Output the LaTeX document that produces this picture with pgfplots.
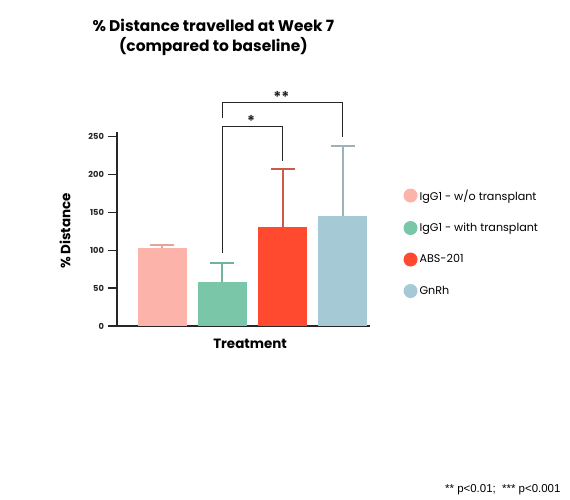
\documentclass[border=0pt]{standalone}
\usepackage{fontspec}
\setmainfont{Poppins}
\newfontfamily\arialfont{Liberation Sans}
\usepackage{pgfplots}
\pgfplotsset{compat=1.18}
\definecolor{cA}{HTML}{FCB3A9}
\definecolor{cB}{HTML}{79C6A8}
\definecolor{cC}{HTML}{FF4A30}
\definecolor{cD}{HTML}{A5CAD5}
\definecolor{eA}{HTML}{E3A49B}
\definecolor{eB}{HTML}{6FB49B}
\definecolor{eC}{HTML}{CC5A4A}
\definecolor{eD}{HTML}{9DB3BB}
\definecolor{axisgray}{HTML}{262626}

\pgfplotsset{
  barstyle/.style n args={2}{
    ybar, bar width=49bp, bar shift=0pt, fill=#1, draw=none,
    legend image code/.code={\fill[#1] (0,0) circle (7bp);},
    error bars/.cd, y dir=plus, y explicit,
    error bar style={line width=2bp, color=#2},
    error mark options={rotate=90, mark size=12bp, line width=2bp, color=#2},
    /pgfplots/.cd,
  },
}

\begin{document}
\begin{tikzpicture}
\path[use as bounding box] (0,0) rectangle (570bp,500bp);
\begin{axis}[
    at={(117bp,174bp)}, anchor=south west,
    scale only axis, width=253bp, height=194bp,
    xmin=-0.758, xmax=3.458, ymin=0, ymax=256,
    axis x line*=bottom, axis y line*=left,
    xtick=\empty, ytick={0,50,...,250},
    tick align=outside, major tick length=9bp,
    tick style={line width=1.3bp, axisgray},
    axis line style={line width=1.3bp, axisgray},
    yticklabel style={font=\fontsize{8.3}{9}\selectfont\bfseries, axisgray,
                      xshift=-0.5bp},
    /pgf/number format/assume math mode=true,
    clip=false,
    title={\% Distance travelled at Week 7\\(compared to baseline)},
    title style={at={(0.381,1.455)}, anchor=center, align=center,
                 font=\fontsize{15.5}{20}\selectfont\bfseries},
    ylabel={\% Distance},
    ylabel style={at={(-0.2055,0.49)}, anchor=center,
                  font=\fontsize{13.5}{14}\selectfont\bfseries},
    xlabel={Treatment},
    xlabel style={at={(0.526,-0.093)}, anchor=center,
                  font=\fontsize{13.5}{14}\selectfont\bfseries},
    legend style={at={(1.12,0.725)}, anchor=north west, draw=none, fill=none,
                  font=\fontsize{11.2}{13}\selectfont, row sep=17.5bp,
                  cells={anchor=west}},
  ]
  \addplot[barstyle={cA}{eA}] coordinates {(0,102.5) +- (0,4.5)};
  \addlegendentry{IgG1 - w/o transplant}
  \addplot[barstyle={cB}{eB}] coordinates {(1,58.7) +- (0,24.3)};
  \addlegendentry{IgG1 - with transplant}
  \addplot[barstyle={cC}{eC}] coordinates {(2,130) +- (0,77.6)};
  \addlegendentry{ABS-201}
  \addplot[barstyle={cD}{eD}] coordinates {(3,145.4) +- (0,92.6)};
  \addlegendentry{GnRh}
  % significance brackets
  \addplot[forget plot, sharp plot, mark=none, line width=1.3bp, axisgray]
    coordinates {(1,96) (1,263) (2,263) (2,218)};
  \addplot[forget plot, sharp plot, mark=none, line width=1.3bp, axisgray]
    coordinates {(1,275) (1,295) (3,295) (3,250)};
  \node[font=\fontsize{15}{15}\selectfont\bfseries, axisgray] at (axis cs:1.475,271) {*};
  \node[font=\fontsize{15}{15}\selectfont\bfseries, axisgray] at (axis cs:1.98,302) {**};
\end{axis}
\node[font=\arialfont\fontsize{11.5}{12}\selectfont, anchor=east] at (564bp,10bp) {** p<0.01;\ \ *** p<0.001};
\end{tikzpicture}
\end{document}
